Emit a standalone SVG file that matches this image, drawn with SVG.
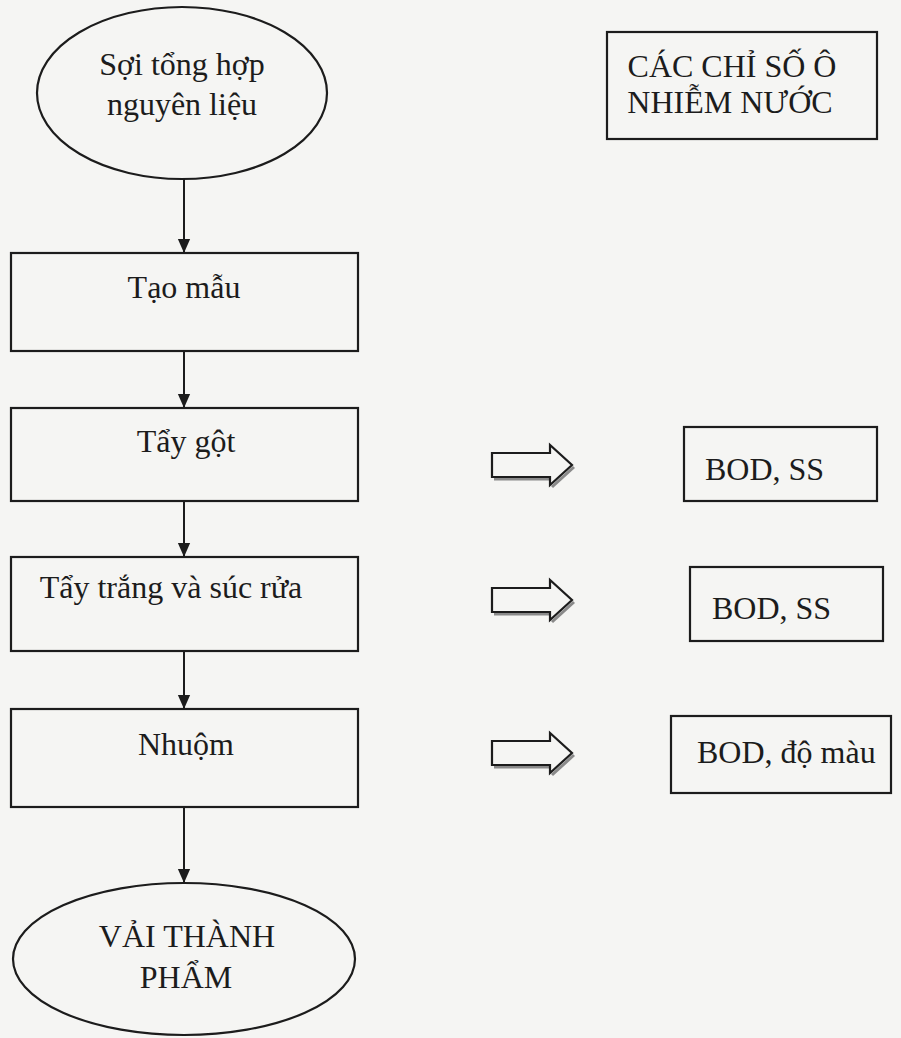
<svg xmlns="http://www.w3.org/2000/svg" width="901" height="1038" viewBox="0 0 901 1038">
<style>
.shape{fill:none;stroke:#1c1c1c;stroke-width:2.2}
.t{font-family:"Liberation Serif","Times New Roman",serif;font-size:32px;fill:#1c1c1c}
.c{text-anchor:middle}
.conn{stroke:#1c1c1c;stroke-width:2}
.barrow{fill:#f5f5f3;stroke:#1c1c1c;stroke-width:2.2;stroke-linejoin:miter}
.shadow{fill:none;stroke:#8a8a8a;stroke-width:3}
</style>
<defs>
<marker id="tri" markerUnits="userSpaceOnUse" markerWidth="14" markerHeight="16" refX="16" refY="7" orient="auto" viewBox="0 0 16 14">
<path d="M0,0 L16,7 L0,14 Z" fill="#1c1c1c"/>
</marker>
<path id="blk" d="M0,-12 L58,-12 L58,-20 L80,0 L58,20 L58,12 L0,12 Z"/>
</defs>
<rect x="0" y="0" width="901" height="1038" fill="#f5f5f3"/>

<g id="connectors">
<line class="conn" x1="184" y1="178" x2="184" y2="253" marker-end="url(#tri)"/>
<line class="conn" x1="184" y1="351" x2="184" y2="408" marker-end="url(#tri)"/>
<line class="conn" x1="184" y1="501" x2="184" y2="557" marker-end="url(#tri)"/>
<line class="conn" x1="184" y1="651" x2="184" y2="709" marker-end="url(#tri)"/>
<line class="conn" x1="184" y1="807" x2="184" y2="883" marker-end="url(#tri)"/>
<g id="block-arrow-1" transform="translate(492 465)">
<path class="shadow" d="M2,14 L58,14 M60,22 L82,2"/>
<use href="#blk" class="barrow"/>
</g>
<g id="block-arrow-2" transform="translate(492 600)">
<path class="shadow" d="M2,14 L58,14 M60,22 L82,2"/>
<use href="#blk" class="barrow"/>
</g>
<g id="block-arrow-3" transform="translate(492 753)">
<path class="shadow" d="M2,14 L58,14 M60,22 L82,2"/>
<use href="#blk" class="barrow"/>
</g>
</g>

<g id="node-soi">
<ellipse class="shape" cx="182" cy="93" rx="145" ry="86"/>
<text class="t c" x="182" y="75">Sợi tổng hợp</text>
<text class="t c" x="182" y="115">nguyên liệu</text>
</g>

<g id="node-chiso">
<rect class="shape" x="607" y="32" width="270" height="107"/>
<text class="t c" x="732" y="77">CÁC CHỈ SỐ Ô</text>
<text class="t c" x="730" y="113">NHIỄM NƯỚC</text>
</g>

<g id="node-taomau">
<rect class="shape" x="11" y="253" width="347" height="98"/>
<text class="t c" x="184" y="298">Tạo mẫu</text>
</g>

<g id="node-taygot">
<rect class="shape" x="11" y="408" width="347" height="93"/>
<text class="t c" x="186" y="452">Tẩy gột</text>
</g>

<g id="node-taytrang">
<rect class="shape" x="11" y="557" width="347" height="94"/>
<text class="t c" x="171" y="598">Tẩy trắng và súc rửa</text>
</g>

<g id="node-nhuom">
<rect class="shape" x="11" y="709" width="347" height="98"/>
<text class="t c" x="186" y="755">Nhuộm</text>
</g>

<g id="node-vai">
<ellipse class="shape" cx="184" cy="959" rx="171" ry="76"/>
<text class="t c" x="187" y="947">VẢI THÀNH</text>
<text class="t c" x="186" y="988">PHẨM</text>
</g>

<g id="node-bod1">
<rect class="shape" x="684" y="427" width="193" height="74"/>
<text class="t" x="705" y="480">BOD, SS</text>
</g>

<g id="node-bod2">
<rect class="shape" x="690" y="567" width="193" height="74"/>
<text class="t" x="712" y="619">BOD, SS</text>
</g>

<g id="node-bod3">
<rect class="shape" x="671" y="716" width="220" height="77"/>
<text class="t" x="697" y="763">BOD, độ màu</text>
</g>
</svg>
